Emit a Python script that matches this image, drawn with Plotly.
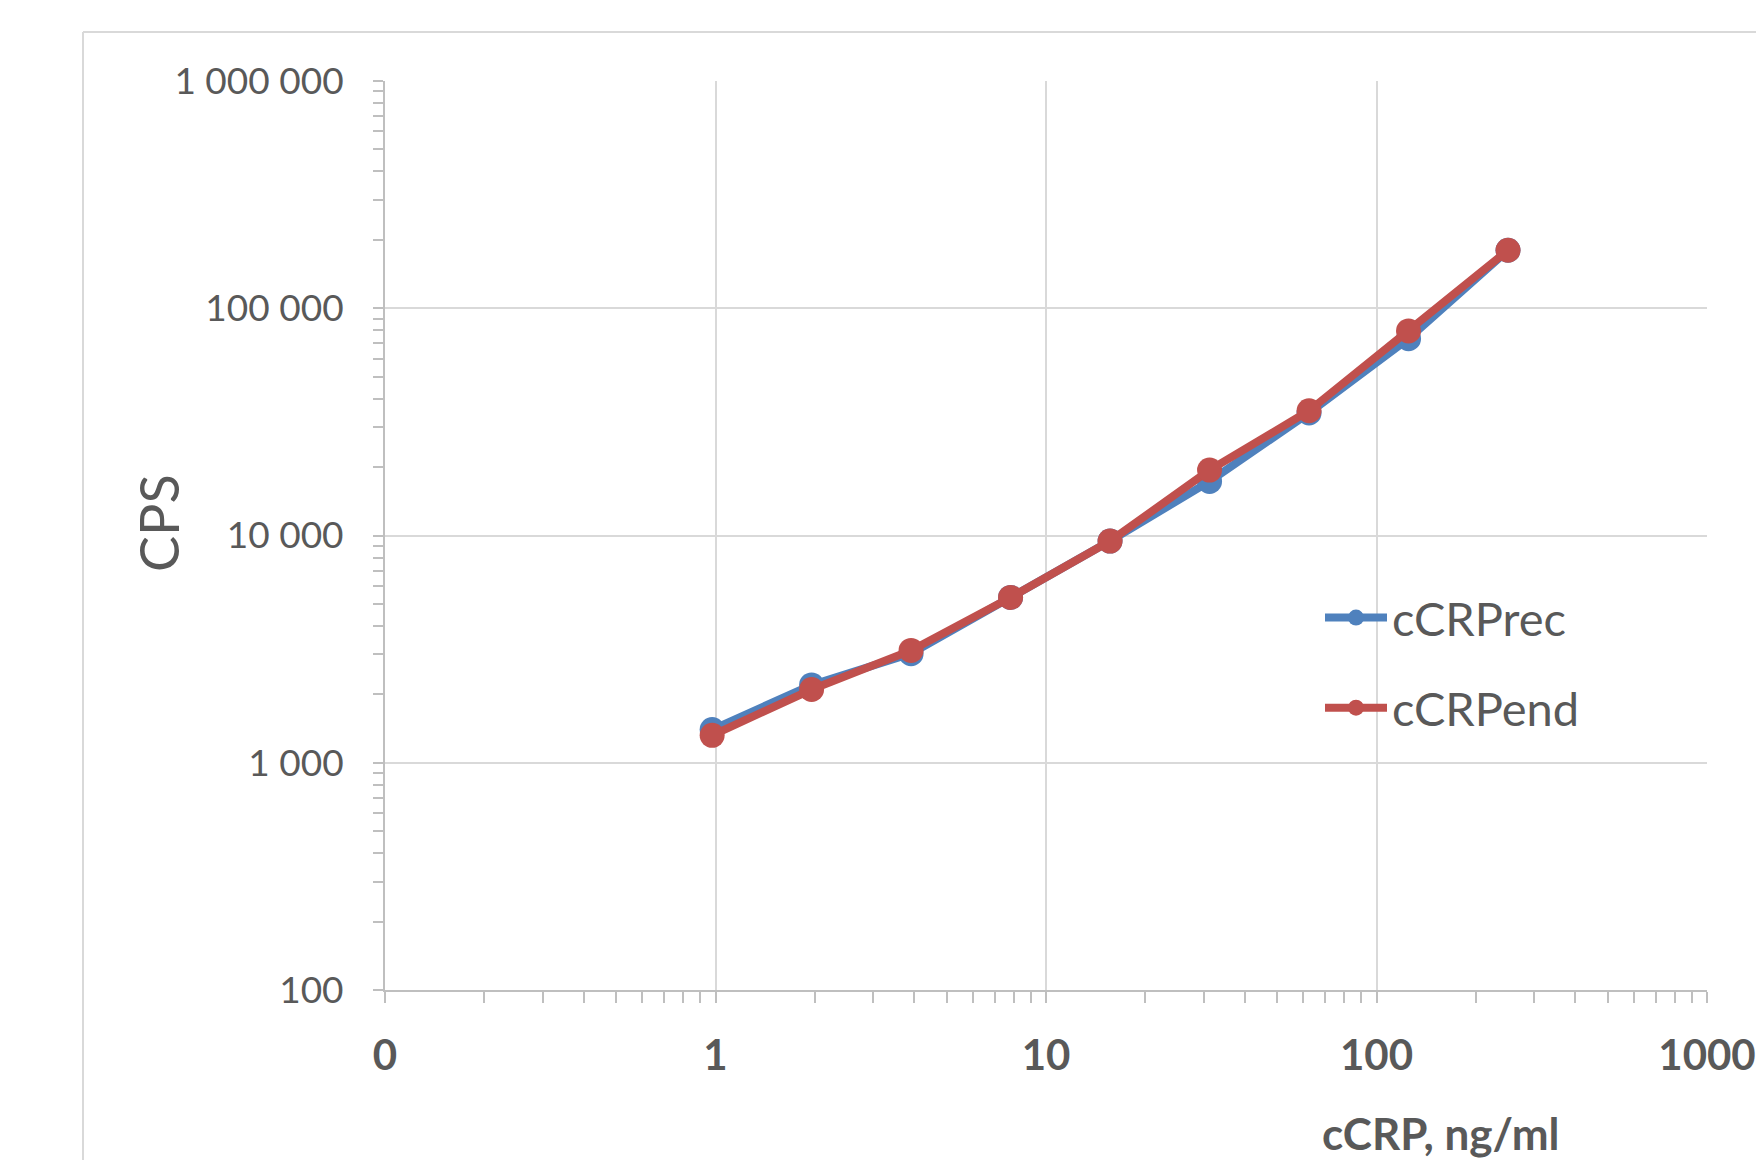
import plotly.graph_objects as go

# ---- data ----
conc = [0.977, 1.953, 3.906, 7.8125, 15.625, 31.25, 62.5, 125, 250]
cps_rec = [1400, 2200, 3020, 5340, 9450, 17300, 34600, 73500, 180000]
cps_end = [1320, 2100, 3120, 5340, 9450, 19400, 35400, 79500, 180000]
series_names = ["cCRPrec", "cCRPend"]
series_colors = ["#4f81bd", "#c0504d"]

x_tickvals = [0.1, 1, 10, 100, 1000]
x_ticktext = ["0", "1", "10", "100", "1000"]
y_tickvals = [100, 1000, 10000, 100000, 1000000]
y_ticktext = ["100", "1 000", "10 000", "100 000", "1 000 000"]
x_title = "cCRP, ng/ml"
y_title = "CPS"

minor_vals = [m * 10 ** e for e in range(-1, 6) for m in range(2, 10)]

FONT = "Lato, Open Sans, sans-serif"
TXT = "#595959"
GRID = "#d9d9d9"
AX = "#bfbfbf"

fig = go.Figure()
for i, (name, ys) in enumerate(zip(series_names, [cps_rec, cps_end])):
    fig.add_trace(go.Scatter(
        x=conc, y=ys, mode="lines+markers", name=name,
        legendgroup=name,
        line=dict(color=series_colors[i], width=8),
        marker=dict(color=series_colors[i], size=25, symbol="circle"),
    ))

# page offset (body margin)
O = 8
W, H = 1764 - O, 1160 - O
PL, PR, PT, PB = 385, 1707, 81, 990  # plot area in page pixels
L, T = PL - O, PT - O
R = W - (PR - O)
B = H - (PB - O)
pw, ph = W - L - R, H - T - B

def px_x(p):
    return (p - PL) / pw

def px_y(p):
    return (PB - p) / ph

fig.update_layout(
    width=W, height=H,
    margin=dict(l=L, r=R, t=T, b=B, autoexpand=False),
    paper_bgcolor="white", plot_bgcolor="white",
    font=dict(family=FONT, color=TXT),
    showlegend=True,
    legend=dict(
        x=px_x(1320), y=px_y(663), xanchor="left", yanchor="middle",
        font=dict(family=FONT, size=47, color=TXT),
        bgcolor="rgba(0,0,0,0)", traceorder="grouped", tracegroupgap=26,
        itemwidth=62,
    ),
    xaxis=dict(
        type="log", range=[-1, 3], automargin=False,
        tickmode="array", tickvals=x_tickvals, ticktext=x_ticktext,
        tickfont=dict(family=FONT, size=42, color=TXT, weight="bold"),
        showgrid=True, gridcolor=GRID, gridwidth=1.5,
        showline=True, linecolor=AX, linewidth=2,
        ticks="outside", ticklen=11, tickcolor=AX, tickwidth=1.5,
        ticklabelstandoff=17,
        minor=dict(tickmode="array", tickvals=minor_vals, ticks="outside",
                   ticklen=11, tickcolor=AX, tickwidth=1.5, showgrid=False),
        zeroline=False,
    ),
    yaxis=dict(
        type="log", range=[2, 6], automargin=False,
        tickmode="array", tickvals=y_tickvals, ticktext=y_ticktext,
        tickfont=dict(family=FONT, size=37, color=TXT),
        showgrid=True, gridcolor=GRID, gridwidth=1.5,
        showline=True, linecolor=AX, linewidth=2,
        ticks="outside", ticklen=10, tickcolor=AX, tickwidth=1.5,
        ticklabelstandoff=22,
        minor=dict(tickmode="array", tickvals=minor_vals, ticks="outside",
                   ticklen=10, tickcolor=AX, tickwidth=1.5, showgrid=False),
        zeroline=False,
    ),
)

fig.add_annotation(
    text=x_title, xref="paper", yref="paper",
    x=px_x(1440), y=px_y(1133), xanchor="center", yanchor="middle",
    showarrow=False, font=dict(family=FONT, size=44, color=TXT, weight="bold"),
)
fig.add_annotation(
    text=y_title, xref="paper", yref="paper",
    x=px_x(158), y=px_y(523), xanchor="center", yanchor="middle",
    textangle=-90, showarrow=False, font=dict(family=FONT, size=54, color=TXT),
)

# outer chart frame (left and top edges visible)
fig.add_shape(type="line", xref="paper", yref="paper",
              x0=px_x(83), x1=px_x(83), y0=px_y(1200), y1=px_y(32),
              line=dict(color=GRID, width=2), layer="below")
fig.add_shape(type="line", xref="paper", yref="paper",
              x0=px_x(83), x1=px_x(1800), y0=px_y(32), y1=px_y(32),
              line=dict(color=GRID, width=2), layer="below")

fig.write_html("out.html")
